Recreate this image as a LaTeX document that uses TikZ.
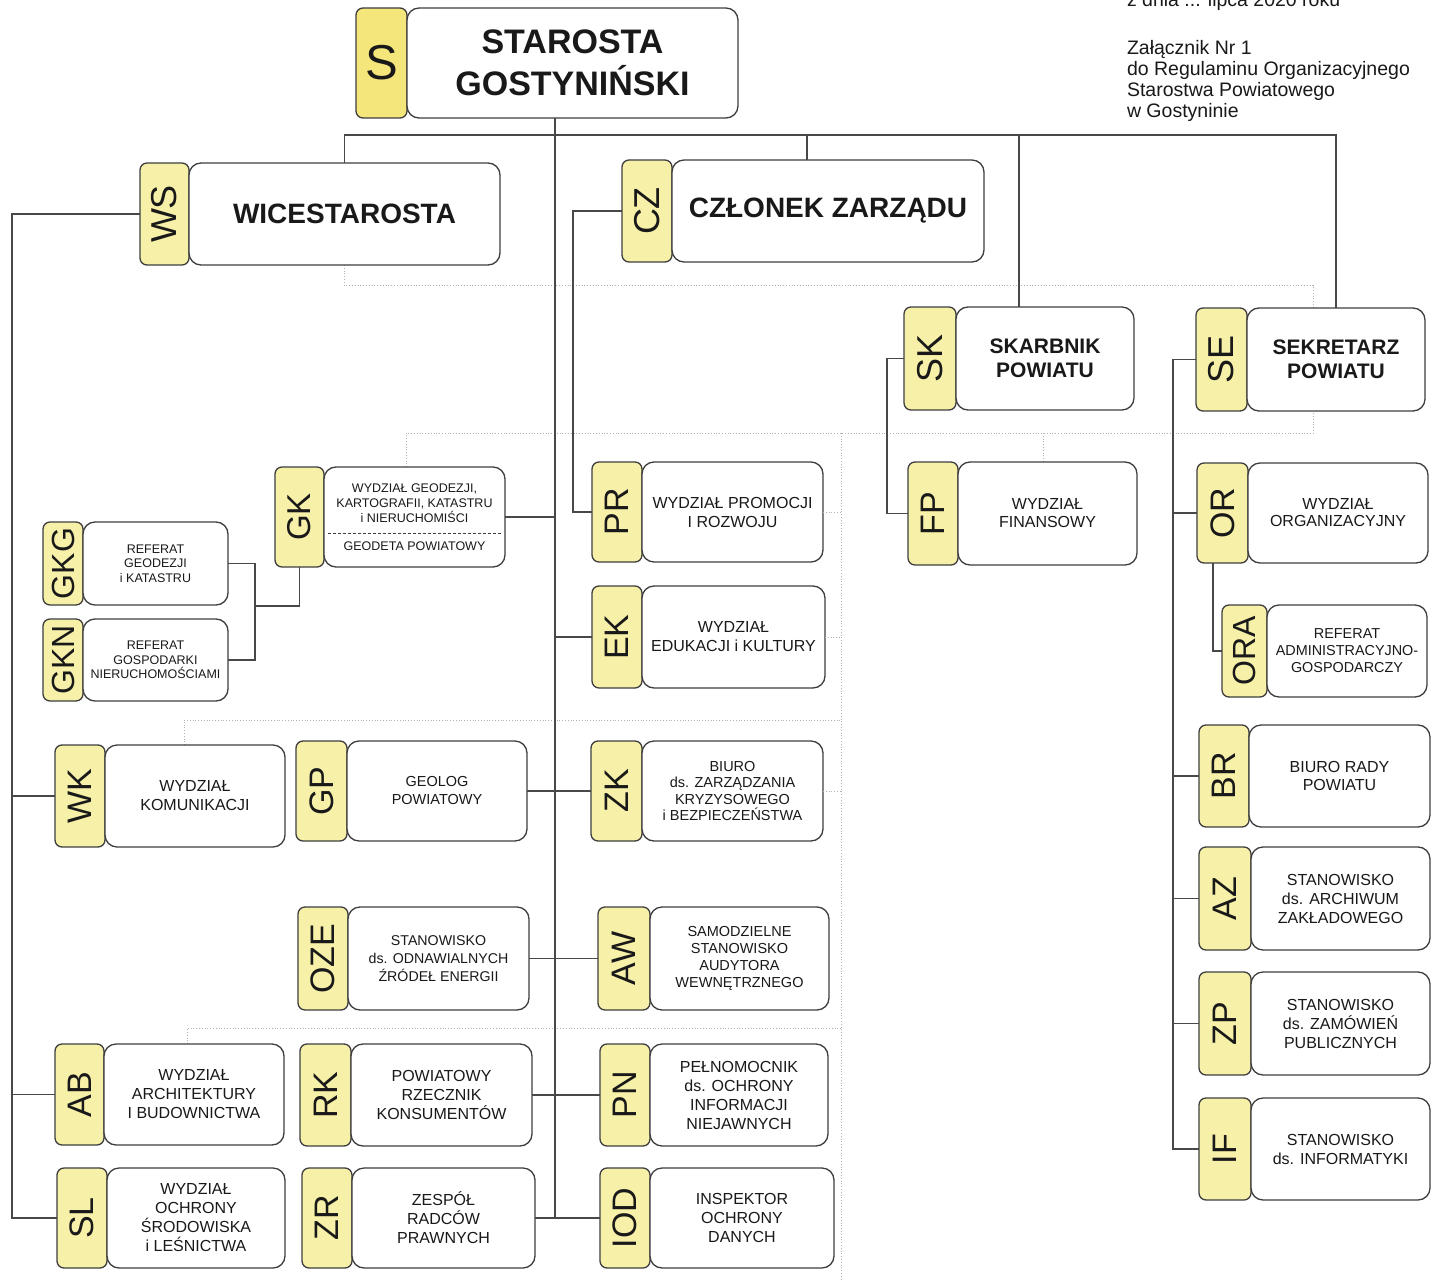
\documentclass[tikz,border=0pt]{standalone}
\usepackage{fontspec}
\setmainfont{Liberation Sans}
\usepackage{graphicx}
\definecolor{tabfill}{RGB}{247,240,168}
\definecolor{tabfillS}{RGB}{244,230,122}
\definecolor{boxline}{RGB}{62,62,62}
\definecolor{linecol}{RGB}{72,72,72}
\definecolor{ink}{RGB}{25,25,25}
\newcommand\fsz[2]{\fontsize{#1}{#2}\selectfont}
\tikzset{
  mainbox/.style={draw=boxline, line width=1.3pt, fill=white, rounded corners=12pt,
    inner sep=0pt, outer sep=0pt, align=center, text=ink},
  tabbox/.style={draw=boxline, line width=1.3pt, fill=tabfill, rounded corners=7pt,
    inner sep=0pt, outer sep=0pt, text=ink},
  conn/.style={draw=linecol, line width=1.1pt},
  guide/.style={draw=black!30, dotted, line width=0.8pt},
  note/.style={inner sep=0pt, outer sep=0pt, text=ink, font=\fsz{19.5}{21}},
}
% #1 code/name, #2 tab font size, #3 x left, #4 x tab/main, #5 x right, #6 y top, #7 y bottom, #8 font, #9 text
\newcommand\orgunit[9]{%
  \node[tabbox, minimum width={(#4-#3)*1pt}, minimum height={(#7-#6)*1pt}]
    (#1t) at ({(#3+#4)/2},{(#6+#7)/2}) {\fsz{#2}{#2}\rotatebox{90}{#1}};
  \node[mainbox, font={#8}, minimum width={(#5-#4)*1pt}, minimum height={(#7-#6)*1pt}]
    (#1) at ({(#4+#5)/2},{(#6+#7)/2}) {#9};}
\begin{document}
\begin{tikzpicture}[x=1pt,y=-1pt]
\useasboundingbox (0,0) rectangle (1437,1281);
\fill[white] (0,0) rectangle (1437,1281);

% faint layout guides
\draw[guide] (344,265) -- (344,285) -- (1313,285) -- (1313,433);
\draw[guide] (406,467) -- (406,433) -- (1313,433);
\draw[guide] (841,433) -- (841,1281);
\draw[guide] (1043,433) -- (1043,462);
\draw[guide] (184,745) -- (184,720) -- (841,720);
\draw[guide] (187,1044) -- (187,1028) -- (841,1028);

% helper coordinates for bus lines
\coordinate (bus) at (0,135);
\coordinate (tr) at (555,0);
\coordinate (czx) at (807,0);
\coordinate (skx) at (1019,0);
\coordinate (lx) at (12,0);
\coordinate (czl) at (573,0);
\coordinate (skl) at (887,0);
\coordinate (sel) at (1173,0);
\coordinate (orx) at (1213,0);
\coordinate (gx) at (255,0);
\coordinate (gjy) at (0,606);
\coordinate (gv) at (841,0);

% top note
\node[note, anchor=base west] (n0) at (1127,7) {z dnia ... lipca 2020 roku};
\node[note, anchor=base west] (n1) at (1127,55) {Załącznik Nr 1};
\node[note, anchor=base west] (n2) at (1127,76) {do Regulaminu Organizacyjnego};
\node[note, anchor=base west] (n3) at (1127,97) {Starostwa Powiatowego};
\node[note, anchor=base west] (n4) at (1127,118) {w Gostyninie};

% STAROSTA
\node[tabbox, fill=tabfillS, minimum width=51pt, minimum height=110pt] (St) at (381.5,63) {\fsz{49}{49}S};
\node[mainbox, font={\bfseries\fsz{34}{42}}, minimum width=331pt, minimum height=110pt] (S) at (572.5,63)
  {STAROSTA\\GOSTYNIŃSKI};

% management
\orgunit{WS}{36}{140}{189}{500}{163}{265}{\bfseries\fsz{28}{32}}{WICESTAROSTA}
\orgunit{CZ}{36}{622}{672}{984}{160}{262}{\bfseries\fsz{28}{32}}{CZŁONEK ZARZĄDU}
\orgunit{SK}{36}{904}{956}{1134}{307}{410}{\bfseries\fsz{21}{24}}{SKARBNIK\\POWIATU}
\orgunit{SE}{36}{1196}{1247}{1425}{308}{411}{\bfseries\fsz{21}{24}}{SEKRETARZ\\POWIATU}

% GK with separator
\node[tabbox, minimum width=49pt, minimum height=100pt] (GKt) at (299.5,517) {\fsz{33}{33}\rotatebox{90}{GK}};
\node[mainbox, font={\fsz{12.5}{15}}, minimum width=181pt, minimum height=100pt] (GK) at (414.5,517)
  {WYDZIAŁ GEODEZJI,\\KARTOGRAFII, KATASTRU\\i NIERUCHOMIŚCI\\[13pt]GEODETA POWIATOWY};
\draw[boxline, densely dashed, line width=0.9pt] (328,533) -- (502,533);

\orgunit{GKG}{32}{43}{83}{228}{522}{605}{\fsz{12.5}{14.5}}{REFERAT\\GEODEZJI\\i KATASTRU}
\orgunit{GKN}{32}{43}{83}{228}{619}{701}{\fsz{12.5}{14.5}}{REFERAT\\GOSPODARKI\\NIERUCHOMOŚCIAMI}

% middle column
\orgunit{PR}{34}{592}{642}{823}{462}{562}{\fsz{16}{19}}{WYDZIAŁ PROMOCJI\\I ROZWOJU}
\orgunit{EK}{34}{592}{642}{825}{586}{688}{\fsz{16}{19}}{WYDZIAŁ\\EDUKACJI i KULTURY}
\orgunit{ZK}{34}{591}{642}{823}{741}{841}{\fsz{14.5}{16.5}}{BIURO\\ds. ZARZĄDZANIA\\KRYZYSOWEGO\\i BEZPIECZEŃSTWA}
\orgunit{AW}{34}{598}{650}{829}{907}{1010}{\fsz{14.5}{17}}{SAMODZIELNE\\STANOWISKO\\AUDYTORA\\WEWNĘTRZNEGO}
\orgunit{PN}{34}{600}{650}{828}{1044}{1146}{\fsz{16}{19}}{PEŁNOMOCNIK\\ds. OCHRONY\\INFORMACJI\\NIEJAWNYCH}
\orgunit{IOD}{34}{600}{650}{834}{1168}{1268}{\fsz{16}{19}}{INSPEKTOR\\OCHRONY\\DANYCH}

% left columns
\orgunit{WK}{34}{55}{105}{285}{745}{847}{\fsz{16}{19}}{WYDZIAŁ\\KOMUNIKACJI}
\orgunit{GP}{34}{296}{347}{527}{741}{841}{\fsz{14.5}{18}}{GEOLOG\\POWIATOWY}
\orgunit{OZE}{34}{298}{348}{529}{907}{1010}{\fsz{14.2}{18}}{STANOWISKO\\ds. ODNAWIALNYCH\\ŹRÓDEŁ ENERGII}
\orgunit{AB}{34}{55}{104}{284}{1044}{1145}{\fsz{16}{19}}{WYDZIAŁ\\ARCHITEKTURY\\I BUDOWNICTWA}
\orgunit{RK}{34}{300}{351}{532}{1044}{1146}{\fsz{16}{19}}{POWIATOWY\\RZECZNIK\\KONSUMENTÓW}
\orgunit{SL}{34}{57}{107}{285}{1168}{1268}{\fsz{16}{19}}{WYDZIAŁ\\OCHRONY\\ŚRODOWISKA\\i LEŚNICTWA}
\orgunit{ZR}{34}{302}{352}{535}{1168}{1268}{\fsz{16}{19}}{ZESPÓŁ\\RADCÓW\\PRAWNYCH}

% finance
\orgunit{FP}{34}{908}{958}{1137}{462}{565}{\fsz{16}{18}}{WYDZIAŁ\\FINANSOWY}

% secretary column
\orgunit{OR}{34}{1197}{1248}{1428}{463}{563}{\fsz{16}{17}}{WYDZIAŁ\\ORGANIZACYJNY}
\orgunit{ORA}{32}{1222}{1267}{1427}{605}{697}{\fsz{14.4}{17}}{REFERAT\\ADMINISTRACYJNO-\\GOSPODARCZY}
\orgunit{BR}{34}{1199}{1249}{1430}{725}{827}{\fsz{16}{17.5}}{BIURO RADY\\POWIATU}
\orgunit{AZ}{34}{1199}{1251}{1430}{847}{950}{\fsz{16}{19}}{STANOWISKO\\ds. ARCHIWUM\\ZAKŁADOWEGO}
\orgunit{ZP}{34}{1199}{1251}{1430}{972}{1075}{\fsz{16}{19}}{STANOWISKO\\ds. ZAMÓWIEŃ\\PUBLICZNYCH}
\orgunit{IF}{34}{1199}{1251}{1430}{1098}{1200}{\fsz{16}{19}}{STANOWISKO\\ds. INFORMATYKI}

% connectors
\draw[conn] (S.south -| tr) -- (tr |- IODt.west);
\draw[conn] (WS.north) -- (WS.north |- bus) -- (SE.north |- bus) -- (SE.north);
\draw[conn] (CZ.north -| czx) -- (czx |- bus);
\draw[conn] (SK.north -| skx) -- (skx |- bus);

\draw[conn] (WSt.west) -| (lx |- SLt.west) -- (SLt.west);
\draw[conn] (lx |- WKt.west) -- (WKt.west);
\draw[conn] (lx |- ABt.west) -- (ABt.west);

\draw[conn] (CZt.west) -| (czl |- PRt.west) -- (PRt.west);
\draw[conn] (GK.east) -- (GK.east -| tr);
\draw[conn] (tr |- EKt.west) -- (EKt.west);
\draw[conn] (GP.east) -- (ZKt.west);
\draw[conn] (OZE.east) -- (AWt.west);
\draw[conn] (RK.east) -- (PNt.west);
\draw[conn] (ZR.east) -- (IODt.west);

\draw[conn] (GKG.east) -| (gx |- GKN.east) -- (GKN.east);
\draw[conn] (GKt.south) |- (gx |- gjy);

\draw[conn] (SKt.west) -| (skl |- FPt.west) -- (FPt.west);

\draw[conn] (SEt.west) -| (sel |- IFt.west) -- (IFt.west);
\draw[conn] (sel |- ORt.west) -- (ORt.west);
\draw[conn] (sel |- BRt.west) -- (BRt.west);
\draw[conn] (sel |- AZt.west) -- (AZt.west);
\draw[conn] (sel |- ZPt.west) -- (ZPt.west);
\draw[conn] (ORt.south -| orx) |- (ORAt.west);

% short guides to the right of the middle column
\draw[guide] (PR.east) -- (PR.east -| gv);
\draw[guide] (EK.east) -- (EK.east -| gv);
\draw[guide] (ZK.east) -- (ZK.east -| gv);
\end{tikzpicture}
\end{document}
